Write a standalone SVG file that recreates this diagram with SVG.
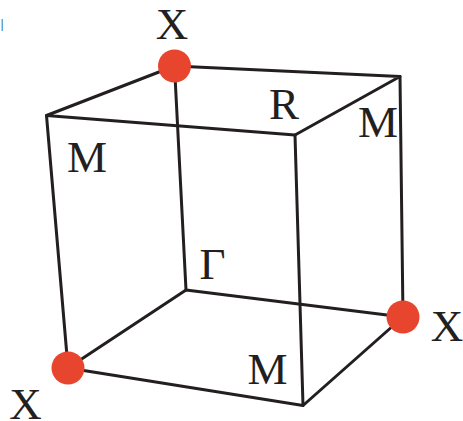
<svg xmlns="http://www.w3.org/2000/svg" width="463" height="421" viewBox="0 0 463 421">
  <style>
    .edge { fill: none; stroke: #231f20; stroke-width: 3; stroke-linecap: round; stroke-linejoin: round; }
    .pt { fill: #e8452f; }
    text { font-family: "Liberation Serif", "Times New Roman", serif; font-size: 45px; fill: #231f20; text-anchor: middle; }
  </style>
  <rect width="463" height="421" fill="#ffffff"/>
  <rect x="1.5" y="19" width="1.5" height="12" fill="#2f95dd" opacity="0.8"/>
  <g id="connectors">
    <path class="edge" d="M46.5 115.5 L174.5 66 L400 76.5 L295 135 Z"/>
    <path class="edge" d="M68 368 L186 290 L403 317 L303 405.5 Z"/>
    <path class="edge" d="M46.5 115.5 L68 368"/>
    <path class="edge" d="M174.5 66 L186 290"/>
    <path class="edge" d="M400 76.5 L403 317"/>
    <path class="edge" d="M295 135 L303 405.5"/>
  </g>
  <g id="node-x-top"><circle class="pt" cx="174.5" cy="66" r="16.5"/><text x="172" y="39">X</text></g>
  <g id="node-x-left"><circle class="pt" cx="68" cy="368" r="16.5"/><text x="25.5" y="419">X</text></g>
  <g id="node-x-right"><circle class="pt" cx="403" cy="317" r="16.5"/><text x="447" y="341">X</text></g>
  <g id="node-m-left"><text x="87" y="172">M</text></g>
  <g id="node-m-right"><text x="378" y="137">M</text></g>
  <g id="node-m-bottom"><text x="267.5" y="384">M</text></g>
  <g id="node-r"><text x="284" y="119">R</text></g>
  <g id="node-gamma"><text x="212.5" y="279">Γ</text></g>
</svg>
